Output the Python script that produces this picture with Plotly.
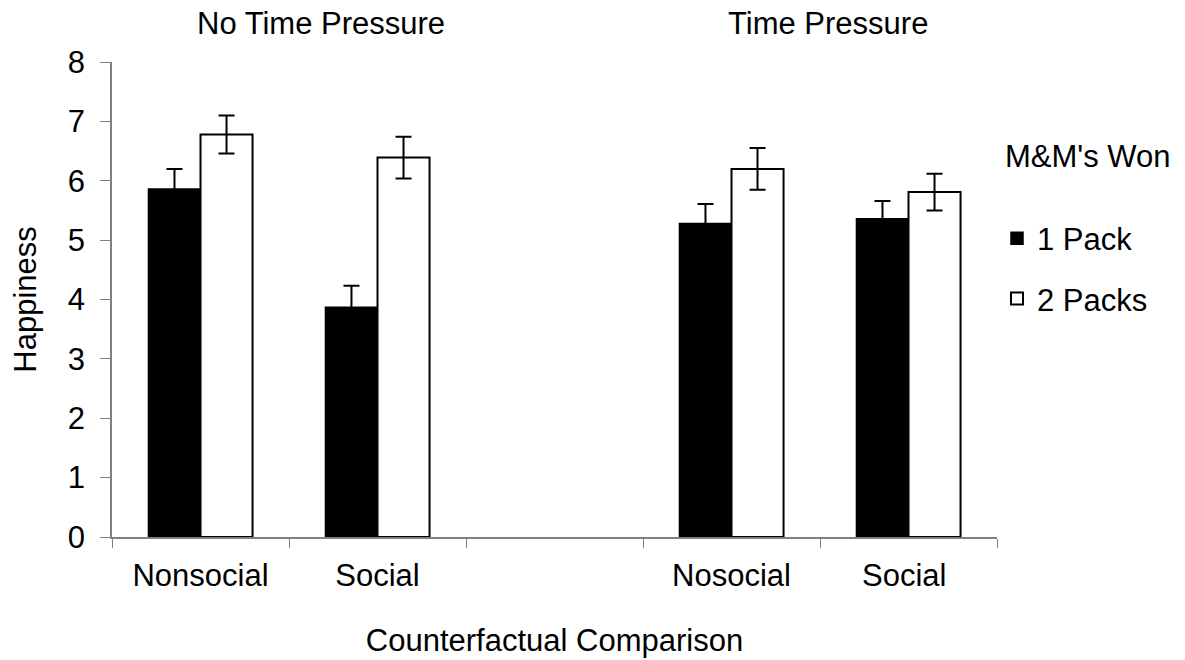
import plotly.graph_objects as go

categories = ["Nonsocial", "Social", " ", "Nosocial", "Social "]
one_pack = [5.86, 3.87, None, 5.28, 5.36]
one_pack_err = [0.34, 0.36, None, 0.33, 0.30]
two_packs = [6.78, 6.39, None, 6.20, 5.81]
two_packs_err = [0.32, 0.35, None, 0.35, 0.31]
series_names = ["1 Pack", "2 Packs"]
legend_title = "M&M's Won"
panel_labels = ["No Time Pressure", "Time Pressure"]
y_ticks = [0, 1, 2, 3, 4, 5, 6, 7, 8]

FONT = "Liberation Sans, Arial, sans-serif"
FS = 31

fig = go.Figure()
fig.add_trace(go.Bar(
    x=categories, y=one_pack, name=series_names[0], legendgroup="a",
    marker=dict(color="black", line=dict(color="black", width=1.5)),
    error_y=dict(type="data", array=one_pack_err, color="black", thickness=2, width=8),
))
fig.add_trace(go.Bar(
    x=categories, y=two_packs, name=series_names[1], legendgroup="b",
    marker=dict(color="white", line=dict(color="black", width=2)),
    error_y=dict(type="data", array=two_packs_err, color="black", thickness=2, width=8),
))

fig.update_layout(
    width=1185, height=660,
    margin=dict(l=112, r=188, t=62, b=123, autoexpand=False),
    paper_bgcolor="white", plot_bgcolor="white",
    font=dict(family=FONT, size=FS, color="black"),
    barmode="group", bargap=0.412, bargroupgap=0,
    showlegend=True,
    legend=dict(
        x=1.0, xanchor="left", xref="paper", y=0.685, yanchor="top",
        font=dict(size=FS), tracegroupgap=17, traceorder="grouped",
        itemwidth=30, bgcolor="rgba(0,0,0,0)",
    ),
    xaxis=dict(
        type="category", categoryorder="array", categoryarray=categories,
        tickson="boundaries", ticks="outside", ticklen=9, tickcolor="#808080",
        showline=True, linecolor="#808080", linewidth=1.5,
        showgrid=False, zeroline=False, automargin=False,
        tickfont=dict(size=FS), ticklabelstandoff=10,
        title=dict(text="Counterfactual Comparison", font=dict(size=FS), standoff=37),
    ),
    yaxis=dict(
        range=[0, 8], tickvals=y_ticks, ticks="outside", ticklen=10, tickcolor="#808080",
        showline=True, linecolor="#808080", linewidth=1.5,
        showgrid=False, zeroline=False, automargin=False,
        tickfont=dict(size=FS), ticklabelstandoff=9,
        title=dict(text="Happiness", font=dict(size=FS), standoff=22),
    ),
)

fig.add_annotation(text=legend_title, x=1.007, y=(537 - 156) / 475, xref="paper", yref="paper",
                   xanchor="left", yanchor="middle", showarrow=False,
                   font=dict(size=FS, family=FONT))

for txt, xp in zip(panel_labels, [0.2364, 0.8087]):
    fig.add_annotation(text=txt, x=xp, y=1.082, xref="paper", yref="paper",
                       xanchor="center", yanchor="middle", showarrow=False,
                       font=dict(size=FS, family=FONT))

fig.write_html("out.html")
